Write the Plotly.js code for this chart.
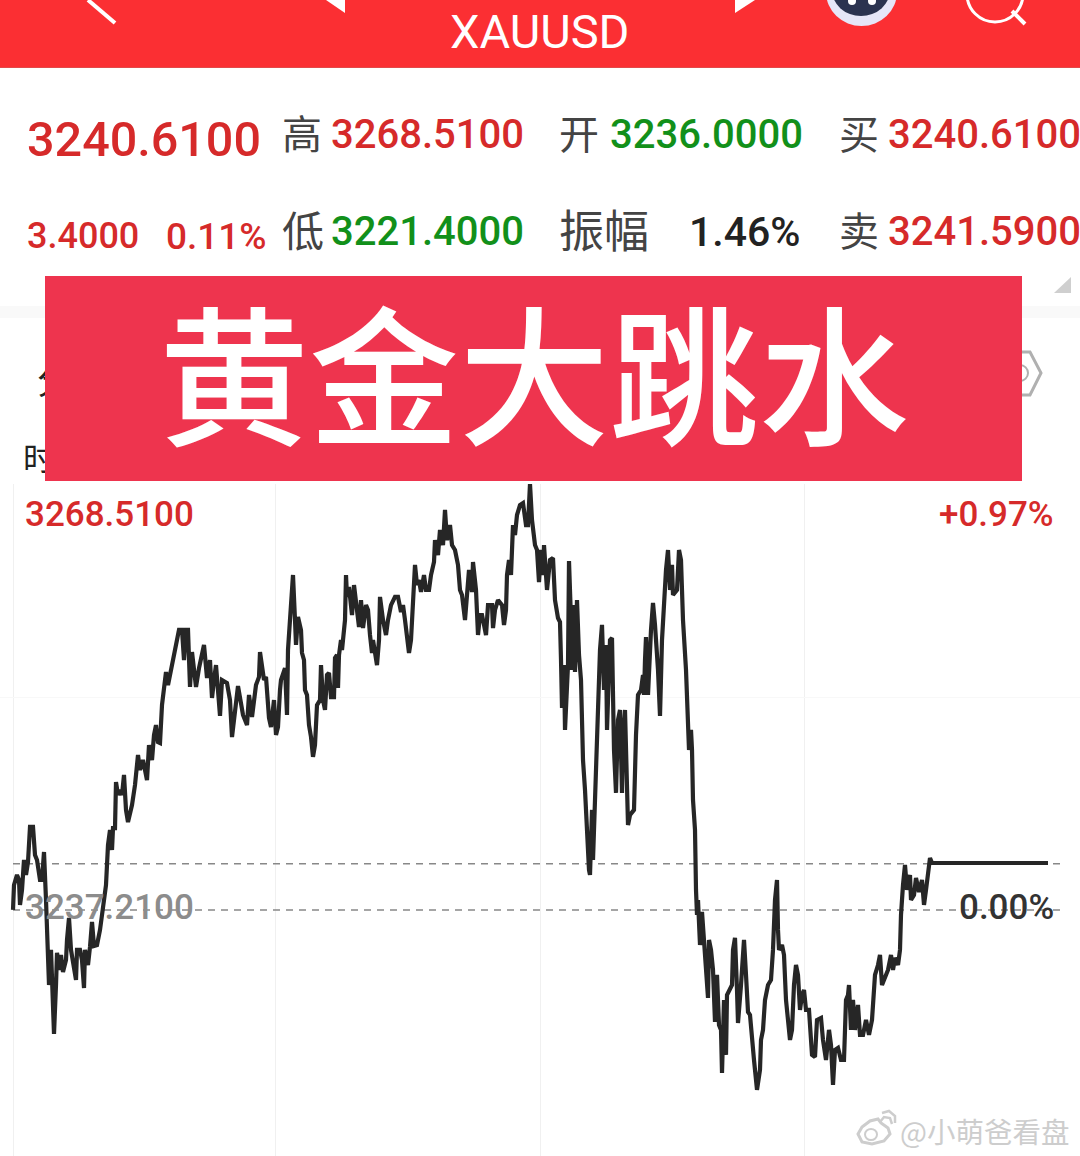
<!DOCTYPE html>
<html><head><meta charset="utf-8">
<script src="https://cdn.plot.ly/plotly-3.0.1.min.js"></script>
<style>html,body{margin:0;padding:0;background:#fff;overflow:hidden}#c{width:1080px;height:1156px}</style>
</head><body><div id="c"></div>
<script>
const symbol = "XAUUSD";
const quoteRow1 = ["3240.6100","3268.5100","3236.0000","3240.6100"];
const quoteRow2 = ["3.4000","0.11%","3221.4000","1.46%","3241.5900"];
const bannerTitle = "黄金大跳水";
const prevClose = 3237.21;
const lastPrice = 3240.61;
const gridTimes = [13,275,540,804];
const gridPrices = [3252.87];

const timeA = [13,14,17,19,20,22,24,26,28,30,33,35,37,40,42,44,46,48,49,51,52,54,56,57,60,61,63,66,67,69,71,73,76,77,80,82,84,85,88,90,92,94,97,100,103,106,108,110,112,113,115,116,118,120,122,124,126,128,132,135,138,140,143,145,147,149,152,154,156,158,160];
const priceA = [3237.22,3239.05,3239.79,3239.42,3237.59,3238.69,3240.89,3239.79,3240.74,3243.32,3243.32,3241.26,3240.89,3239.42,3239.42,3241.48,3237.95,3234.28,3231.70,3234.28,3231.70,3228.11,3231.70,3234.06,3232.81,3233.91,3232.66,3233.54,3235.01,3236.63,3234.28,3233.39,3232.07,3234.28,3234.28,3233.54,3231.48,3234.28,3233.17,3234.50,3236.33,3234.57,3234.64,3235.75,3237.59,3239.05,3241.99,3243.10,3241.63,3243.24,3243.24,3246.62,3245.67,3246.04,3245.67,3247.14,3244.57,3243.68,3244.93,3246.40,3248.61,3247.51,3248.24,3247.51,3246.77,3249.34,3248.24,3250.08,3250.81,3249.56,3249.49];

const timeB = [162,164,166,168,171,174,177,179,182,184,186,188,190,192,196,199,204,207,210,212,214,216,220,222,227,230,232,236,238,243,247,249,252,256,259,260,264,266,269,271,274,276,278,280,281,285,287,288,291];
const priceB = [3252.28,3253.75,3254.71,3253.75,3254.86,3255.59,3256.69,3257.80,3257.80,3255.59,3257.80,3257.80,3253.61,3256.18,3253.61,3255.00,3256.69,3254.27,3255.59,3252.80,3254.12,3255.22,3251.48,3254.12,3253.90,3252.65,3249.93,3252.65,3253.68,3251.55,3250.81,3253.02,3251.41,3253.75,3254.35,3256.18,3254.12,3254.35,3251.33,3250.67,3252.65,3250.08,3250.67,3253.39,3254.12,3255.00,3251.55,3256.33,3260.00];

const timeC = [293,295,296,298,301,302,304,305,307,309,311,313,315,317,320,321,323,325,327,329,331,334,335,337,338,339,341,342,345,346,347,349,351,352,354,356,359,361,363,366,368,370,372,373,375,377,379,380,383,386,388,391,395,398,401,403,405,408,409,411,413,415,417,419,421,424,426,429,431,434,435,438,440,443,445,447,450,452,455,458,460,462,465,467,469,472,473,476,477,478,480,482,484,486,488,492,493,495,498,502,504,506,507,509,511,513,515,517,520,523,526,528,530,532,535,537,539,541,543,544,547,550,553,555,558,560];
const priceC = [3261.84,3258.53,3256.70,3258.76,3257.80,3256.11,3255.59,3253.39,3253.02,3250.81,3249.93,3248.47,3249.34,3252.28,3252.65,3255.22,3252.65,3251.92,3254.49,3254.64,3252.87,3252.87,3255.74,3255.96,3253.54,3255.96,3257.06,3256.33,3258.53,3261.84,3260.23,3260.96,3259.12,3258.90,3261.10,3260.00,3258.02,3260.00,3257.94,3259.63,3259.27,3257.43,3256.11,3257.06,3255.96,3255.22,3257.06,3260.23,3258.53,3257.43,3258.53,3259.63,3260.23,3260.23,3259.12,3259.63,3258.53,3257.06,3256.11,3257.06,3260.74,3262.58,3261.10,3261.47,3260.59,3261.84,3260.74,3260.74,3261.84,3262.79,3264.41,3263.31,3265.15,3264.04,3266.62,3264.41,3265.51,3264.04,3263.68,3262.58,3260.74,3260.37,3258.53,3260.74,3262.21,3260.59,3262.79,3260.74,3259.27,3257.43,3258.90,3258.90,3258.17,3257.43,3259.63,3259.63,3257.94,3259.27,3260.00,3259.63,3258.17,3259.27,3261.84,3262.94,3261.84,3265.51,3264.78,3266.25,3266.98,3267.13,3265.51,3265.51,3268.53,3265.88,3264.04,3263.68,3261.32,3263.68,3261.84,3264.04,3260.74,3262.94,3263.09,3260.00,3258.68,3258.38];

const timeD = [561,562,564,565,568,569,571,572,573,575,577,579,581,582,583,585,586,587,589,590,592,593,595,596,598,600,602,604,606,607,609,610,612,613,614,616,618,620,622,623,625,628,630,634,635,636,638,641,643,644,645,646,648,650,651,653,655,658,660,662,664,666,668,670,672,673,677,679,681,683,686,688,689,691,692,693,695,696];
const priceD = [3255.59,3252.07,3255.22,3250.45,3255.22,3262.87,3258.53,3254.86,3259.63,3254.71,3260.00,3255.96,3254.12,3251.18,3248.24,3246.04,3244.57,3241.63,3240.16,3239.79,3244.57,3240.89,3245.30,3247.51,3251.18,3256.33,3258.17,3253.39,3256.70,3250.45,3254.86,3257.06,3257.21,3252.65,3248.98,3245.82,3251.18,3251.92,3245.82,3249.71,3251.92,3243.46,3244.20,3244.57,3248.24,3250.08,3253.02,3253.39,3254.49,3253.02,3255.59,3257.28,3253.02,3257.06,3257.80,3259.78,3258.17,3254.86,3251.48,3257.06,3260.00,3262.21,3263.68,3260.74,3262.58,3260.37,3260.74,3263.68,3262.94,3258.53,3254.86,3251.18,3248.98,3250.45,3248.98,3245.30,3243.10,3238.69];

const timeE = [697,698,700,702,704,706,708,709,711,713,715,717,719,721,722,724,726,727,730,732,733,735,737,738,741,744,746,748,750,752,754,757,760,761,763,765,768,771,773,775,777,778,779,782,784,786,788,790,792,794,796,798,800,802,804,806,809,812,815,817,821,823,826,829,831,833,835,838,841,844,846,848,849,851,853,855,858,860,863,866,869,872,874,875,878,880,882,886,888,891,893,895,898,900,901,903,905,907,910,911,914,916,919,922,924,926,928,930,932,1048];
const priceE = [3236.85,3237.95,3234.64,3237.07,3234.64,3233.17,3230.75,3235.01,3234.28,3232.81,3228.98,3232.44,3228.76,3228.40,3225.24,3230.60,3226.56,3230.97,3231.34,3231.70,3234.28,3235.16,3231.34,3228.91,3231.70,3235.01,3232.44,3229.72,3229.50,3228.18,3226.19,3223.99,3225.46,3227.66,3228.40,3230.60,3231.70,3232.07,3234.28,3237.95,3239.42,3235.75,3234.28,3234.64,3233.91,3230.60,3228.76,3227.66,3228.40,3231.70,3233.17,3232.44,3229.87,3230.97,3231.34,3229.87,3229.87,3226.56,3226.41,3229.13,3229.28,3227.66,3226.19,3228.40,3227.29,3224.35,3226.93,3227.08,3226.19,3226.19,3230.60,3230.97,3231.70,3228.40,3230.60,3228.40,3230.23,3228.03,3228.03,3229.13,3228.03,3229.13,3231.34,3232.44,3233.17,3233.91,3231.70,3232.44,3232.81,3233.91,3232.81,3233.69,3233.17,3234.28,3236.85,3239.05,3240.52,3238.69,3239.79,3237.95,3238.32,3239.57,3238.54,3239.42,3237.59,3238.69,3240.16,3241.04,3240.67,3240.67];

const times = [...timeA,...timeB,...timeC,...timeD,...timeE];
const prices = [...priceA,...priceB,...priceC,...priceD,...priceE];
if (times.length !== prices.length) throw new Error("len " + times.length + " vs " + prices.length);

const W = 1080, H = 1156;
const fx = x => x / W, fy = y => 1 - y / H;
const RED = "#d62a2a", GREEN = "#12901a", GREY = "#444444", WM = "#cdcdcd";
const LAT = "Roboto, sans-serif", CJK = "'Noto Sans CJK SC', sans-serif";

function t(text, x, y, size, color, anchor, family, weight) {
  return {text, xref:"paper", yref:"paper", x:fx(x), y:fy(y), xanchor:anchor||"left", yanchor:"middle",
    showarrow:false, borderpad:0, font:{size, color, family:family||LAT, weight:weight||500}};
}
const annotations = [
  t(symbol, 539, 32, 47, "#ffffff", "center", LAT, 400),
  t(quoteRow1[0], 26, 140, 48.5, RED),
  t("高", 281, 132, 40, GREY, "left", CJK, 400),
  t(quoteRow1[1], 330, 135, 40, RED),
  t("开", 558, 132, 40, GREY, "left", CJK, 400),
  t(quoteRow1[2], 609, 135, 40, GREEN),
  t("买", 838, 132, 40, GREY, "left", CJK, 400),
  t(quoteRow1[3], 887, 135, 40, RED),
  t(quoteRow2[0], 26, 236, 36, RED),
  t(quoteRow2[1], 165, 236, 37, RED),
  t("低", 281, 229, 42, GREY, "left", CJK, 400),
  t(quoteRow2[2], 330, 232, 40, GREEN),
  t("振幅", 558, 229, 45, GREY, "left", CJK, 400),
  t(quoteRow2[3], 688, 232, 41, "#222222"),
  t("卖", 838, 229, 40, GREY, "left", CJK, 400),
  t(quoteRow2[4], 887, 232, 40, RED),
  t("分", 36, 378, 36, "#222222", "left", CJK, 400),
  t("时", 22, 456, 32, "#222222", "left", CJK, 400),
  {text:" ", xref:"paper", yref:"paper", x:fx(45), y:fy(276), xanchor:"left", yanchor:"top", showarrow:false,
   width:977, height:205, bgcolor:"#ee344e", borderpad:0, borderwidth:0, font:{size:10}},
  t(bannerTitle, 534, 368, 150, "#ffffff", "center", CJK, 500),
  t("3268.5100", 24, 514, 35, RED),
  t("+0.97%", 1055, 514, 35, RED, "right"),
  t("3237.2100", 24, 907, 35, "#8c8c8c"),
  t("0.00%", 1055, 907, 35, "#333333", "right"),
  t("@小萌爸看盘", 1070, 1130, 28.5, WM, "right", CJK, 400)
];
const px = (d) => ({type:"path", xref:"paper", yref:"paper", path:d});
function P(pts, close) {
  return pts.map((p,i)=>(i?"L":"M")+fx(p[0])+","+fy(p[1])).join(" ")+(close?" Z":"");
}
function rect(x0,y0,x1,y1,fill) {
  return {type:"rect", xref:"paper", yref:"paper", x0:fx(x0), x1:fx(x1), y0:fy(y0), y1:fy(y1), fillcolor:fill, line:{width:0}, layer:"above"};
}
function oval(x0,y0,x1,y1,fill,stroke,w) {
  return {type:"circle", xref:"paper", yref:"paper", x0:fx(x0), x1:fx(x1), y0:fy(y0), y1:fy(y1), fillcolor:fill, line:{color:stroke||fill, width:w||0}, layer:"above"};
}
function poly(pts, fill, stroke, w, close) {
  return Object.assign(px(P(pts, close)), {fillcolor:fill, line:{color:stroke||fill, width:w||0}, layer:"above"});
}
const NONE = "rgba(0,0,0,0)";
const shapes = [
  rect(0,0,1080,67,"#fb2f33"),
  rect(0,67,1080,68,"#e24a4a"),
  rect(0,306,1080,318,"#f9f9f9"),
  poly([[88,0],[115,23]],NONE,"#ffffff",4),
  poly([[326,0],[345,0],[345,13]],"#ffffff","#ffffff",0,true),
  poly([[735,0],[755,0],[735,13]],"#ffffff","#ffffff",0,true),
  oval(826,-42,897,26,"#e6e6f8"),
  oval(832,-36,890,16,"#2b3350"),
  oval(848,-3,856,5,"#ffffff"),
  oval(868,-3,876,5,"#ffffff"),
  oval(967,-34,1023,22,NONE,"#ffffff",3),
  poly([[1012,11],[1025,24]],NONE,"#ffffff",4),
  poly([[1071,277],[1071,293],[1054,293]],"#cfcfcf","#cfcfcf",0,true),
  poly([[1012,352],[1030,352],[1041,373],[1030,395],[1012,395]],NONE,"#b0b0b0",3),
  oval(1012,365,1028,381,NONE,"#b0b0b0",2),
  poly([[858,1134],[862,1127],[870,1121],[878,1119],[881,1123],[888,1128],[890,1134],[884,1141],[872,1144],[862,1142]],NONE,WM,3,true),
  oval(865,1129,877,1140,NONE,WM,2),
  poly([[880,1122],[884,1117],[890,1118],[892,1124]],NONE,WM,2.5),
  poly([[882,1113],[889,1111],[895,1116],[895,1123]],NONE,WM,2.5)
];
const data = [
  {x:[13,1062], y:[lastPrice,lastPrice], mode:"lines", line:{color:"#888888", width:1.6, dash:"7px,6px"}, hoverinfo:"skip"},
  {x:[13,1062], y:[prevClose,prevClose], mode:"lines", line:{color:"#888888", width:1.6, dash:"7px,6px"}, hoverinfo:"skip"},
  {x:times, y:prices, mode:"lines", line:{color:"#262626", width:4.2, shape:"linear"}, cliponaxis:false, hoverinfo:"skip"}
];
const layout = {
  width:W, height:H, margin:{l:0,r:0,t:0,b:0}, paper_bgcolor:"#ffffff", plot_bgcolor:"#ffffff", showlegend:false,
  xaxis:{range:[0,1080], domain:[0,1], tickmode:"array", tickvals:gridTimes, showticklabels:false, ticks:"", showgrid:true, gridcolor:"#f0f0f0", gridwidth:1, zeroline:false, showline:false, fixedrange:true},
  yaxis:{range:[3219.13,3268.53], domain:[0,(H-484)/H], tickmode:"array", tickvals:gridPrices, showticklabels:false, ticks:"", showgrid:true, gridcolor:"#f8f8f8", gridwidth:1, zeroline:false, showline:false, fixedrange:true},
  shapes, annotations
};
Plotly.newPlot("c", data, layout, {staticPlot:true, displayModeBar:false});
</script></body></html>
